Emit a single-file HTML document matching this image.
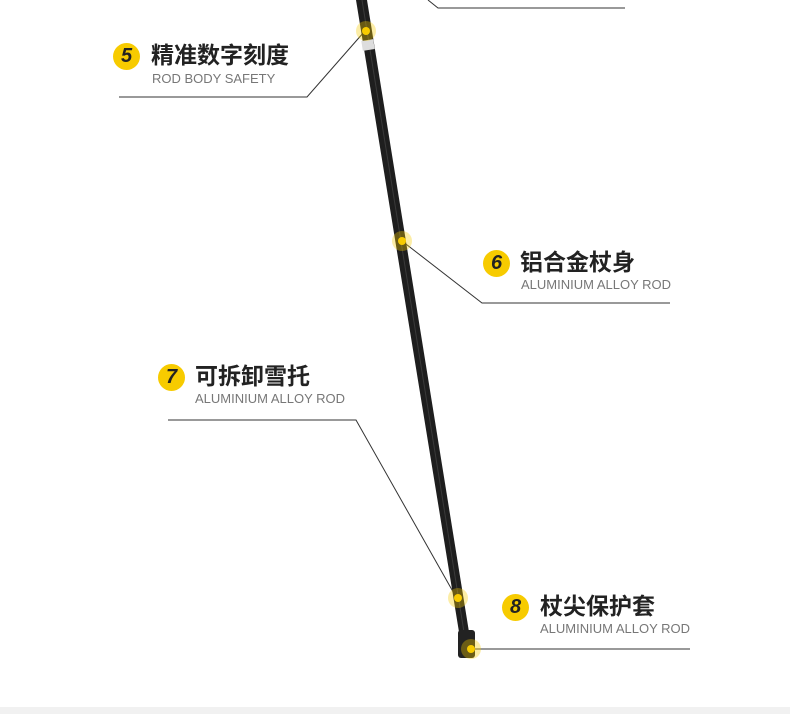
<!DOCTYPE html>
<html><head><meta charset="utf-8"><style>
body{margin:0;width:790px;height:714px;background:#fff;overflow:hidden;position:relative;font-family:"Liberation Sans","Noto Sans CJK SC",sans-serif}
.t{position:absolute;font-size:23px;font-weight:bold;color:#222;line-height:26px;white-space:nowrap}
.s{position:absolute;font-size:13px;color:#777;line-height:16px;white-space:nowrap}
.n{position:absolute;width:27px;height:27px;border-radius:50%;background:#f7cb00;color:#222;font-weight:bold;font-style:italic;font-size:20px;text-align:center;line-height:27px}
</style></head><body>
<svg width="790" height="714" style="position:absolute;left:0;top:0">
<rect x="0" y="707" width="790" height="7" fill="#f1f1f1"/>
<g stroke="#333" stroke-width="1" fill="none">
<polyline points="428,0 438,8 625,8"/>
<polyline points="364,32 307,97 119,97"/>
<polyline points="402,241 482,303 670,303"/>
<polyline points="168,420 356,420 456,597"/>
<polyline points="470,649 690,649"/>
</g>
<polygon points="356,0 367,0 469,632 459,632" fill="#1e1e1e"/>
<line x1="362" y1="0" x2="464" y2="632" stroke="#3a3a3a" stroke-width="1"/>
<rect x="362" y="40" width="12" height="10" fill="#ddd" transform="rotate(-9 368 45)"/>
<rect x="458" y="630" width="17" height="28" rx="3" fill="#222"/>
<g fill="#f7cb00">
<circle cx="366" cy="31" r="10" opacity=".35"/><circle cx="366" cy="31" r="4"/>
<circle cx="402" cy="241" r="10" opacity=".35"/><circle cx="402" cy="241" r="4"/>
<circle cx="458" cy="598" r="10" opacity=".35"/><circle cx="458" cy="598" r="4"/>
<circle cx="471" cy="649" r="10" opacity=".35"/><circle cx="471" cy="649" r="4"/>
</g>
</svg>
<div class="n" style="left:113px;top:43px">5</div>
<div class="t" style="left:151px;top:42px">精准数字刻度</div>
<div class="s" style="left:152px;top:71px">ROD BODY SAFETY</div>
<div class="n" style="left:483px;top:250px">6</div>
<div class="t" style="left:520px;top:249px">铝合金杖身</div>
<div class="s" style="left:521px;top:277px">ALUMINIUM ALLOY ROD</div>
<div class="n" style="left:158px;top:364px">7</div>
<div class="t" style="left:195px;top:363px">可拆卸雪托</div>
<div class="s" style="left:195px;top:391px">ALUMINIUM ALLOY ROD</div>
<div class="n" style="left:502px;top:594px">8</div>
<div class="t" style="left:540px;top:593px">杖尖保护套</div>
<div class="s" style="left:540px;top:621px">ALUMINIUM ALLOY ROD</div>
</body></html>
